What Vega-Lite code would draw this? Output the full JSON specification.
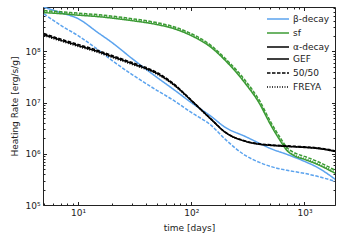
{
  "$schema": "https://vega.github.io/schema/vega-lite/v6.json",
  "width": 292,
  "height": 198,
  "autosize": "none",
  "padding": {"left": 43, "top": 7, "right": 8, "bottom": 40},
  "config": {
    "font": "DejaVu Sans",
    "view": {"stroke": "#222222", "strokeWidth": 1},
    "axis": {"domain": false, "grid": false, "labelFontSize": 9, "titleFontSize": 9, "titleFontWeight": "normal", "labelColor": "#222", "titleColor": "#222", "tickColor": "#222"},
    "legend": {"padding": 0}
  },
  "data": {"values": [
    {"time":5,"rate":7.3e8,"process":"β-decay","model":"GEF"},
    {"time":7,"rate":5.71e8,"process":"β-decay","model":"GEF"},
    {"time":10,"rate":4.36e8,"process":"β-decay","model":"GEF"},
    {"time":15,"rate":2.32e8,"process":"β-decay","model":"GEF"},
    {"time":20,"rate":1.48e8,"process":"β-decay","model":"GEF"},
    {"time":30,"rate":7.24e7,"process":"β-decay","model":"GEF"},
    {"time":50,"rate":3.08e7,"process":"β-decay","model":"GEF"},
    {"time":70,"rate":1.80e7,"process":"β-decay","model":"GEF"},
    {"time":100,"rate":1.00e7,"process":"β-decay","model":"GEF"},
    {"time":150,"rate":5.36e6,"process":"β-decay","model":"GEF"},
    {"time":200,"rate":3.27e6,"process":"β-decay","model":"GEF"},
    {"time":300,"rate":2.18e6,"process":"β-decay","model":"GEF"},
    {"time":400,"rate":1.60e6,"process":"β-decay","model":"GEF"},
    {"time":500,"rate":1.27e6,"process":"β-decay","model":"GEF"},
    {"time":700,"rate":9.73e5,"process":"β-decay","model":"GEF"},
    {"time":1000,"rate":7.11e5,"process":"β-decay","model":"GEF"},
    {"time":1300,"rate":5.43e5,"process":"β-decay","model":"GEF"},
    {"time":1870,"rate":3.17e5,"process":"β-decay","model":"GEF"},

    {"time":5,"rate":5.4e8,"process":"β-decay","model":"50/50"},
    {"time":7,"rate":3.25e8,"process":"β-decay","model":"50/50"},
    {"time":10,"rate":2.03e8,"process":"β-decay","model":"50/50"},
    {"time":15,"rate":1.08e8,"process":"β-decay","model":"50/50"},
    {"time":20,"rate":6.62e7,"process":"β-decay","model":"50/50"},
    {"time":30,"rate":3.53e7,"process":"β-decay","model":"50/50"},
    {"time":50,"rate":1.72e7,"process":"β-decay","model":"50/50"},
    {"time":70,"rate":1.10e7,"process":"β-decay","model":"50/50"},
    {"time":100,"rate":6.41e6,"process":"β-decay","model":"50/50"},
    {"time":150,"rate":3.58e6,"process":"β-decay","model":"50/50"},
    {"time":200,"rate":1.91e6,"process":"β-decay","model":"50/50"},
    {"time":300,"rate":9.31e5,"process":"β-decay","model":"50/50"},
    {"time":400,"rate":6.80e5,"process":"β-decay","model":"50/50"},
    {"time":500,"rate":5.68e5,"process":"β-decay","model":"50/50"},
    {"time":700,"rate":4.75e5,"process":"β-decay","model":"50/50"},
    {"time":1000,"rate":4.15e5,"process":"β-decay","model":"50/50"},
    {"time":1300,"rate":3.63e5,"process":"β-decay","model":"50/50"},
    {"time":1870,"rate":2.90e5,"process":"β-decay","model":"50/50"},

    {"time":5,"rate":5.71e8,"process":"sf","model":"GEF"},
    {"time":7,"rate":5.45e8,"process":"sf","model":"GEF"},
    {"time":10,"rate":5.10e8,"process":"sf","model":"GEF"},
    {"time":15,"rate":4.77e8,"process":"sf","model":"GEF"},
    {"time":20,"rate":4.46e8,"process":"sf","model":"GEF"},
    {"time":30,"rate":3.98e8,"process":"sf","model":"GEF"},
    {"time":50,"rate":3.33e8,"process":"sf","model":"GEF"},
    {"time":70,"rate":2.78e8,"process":"sf","model":"GEF"},
    {"time":100,"rate":2.03e8,"process":"sf","model":"GEF"},
    {"time":150,"rate":1.19e8,"process":"sf","model":"GEF"},
    {"time":200,"rate":6.62e7,"process":"sf","model":"GEF"},
    {"time":300,"rate":2.36e7,"process":"sf","model":"GEF"},
    {"time":400,"rate":9.60e6,"process":"sf","model":"GEF"},
    {"time":500,"rate":3.74e6,"process":"sf","model":"GEF"},
    {"time":600,"rate":1.91e6,"process":"sf","model":"GEF"},
    {"time":700,"rate":1.16e6,"process":"sf","model":"GEF"},
    {"time":800,"rate":9.31e5,"process":"sf","model":"GEF"},
    {"time":1000,"rate":7.78e5,"process":"sf","model":"GEF"},
    {"time":1300,"rate":6.21e5,"process":"sf","model":"GEF"},
    {"time":1870,"rate":4.15e5,"process":"sf","model":"GEF"},

    {"time":5,"rate":6.25e8,"process":"sf","model":"50/50"},
    {"time":7,"rate":5.96e8,"process":"sf","model":"50/50"},
    {"time":10,"rate":5.58e8,"process":"sf","model":"50/50"},
    {"time":15,"rate":5.22e8,"process":"sf","model":"50/50"},
    {"time":20,"rate":4.88e8,"process":"sf","model":"50/50"},
    {"time":30,"rate":4.35e8,"process":"sf","model":"50/50"},
    {"time":50,"rate":3.64e8,"process":"sf","model":"50/50"},
    {"time":70,"rate":3.04e8,"process":"sf","model":"50/50"},
    {"time":100,"rate":2.22e8,"process":"sf","model":"50/50"},
    {"time":150,"rate":1.30e8,"process":"sf","model":"50/50"},
    {"time":200,"rate":7.24e7,"process":"sf","model":"50/50"},
    {"time":300,"rate":2.70e7,"process":"sf","model":"50/50"},
    {"time":400,"rate":1.10e7,"process":"sf","model":"50/50"},
    {"time":500,"rate":4.28e6,"process":"sf","model":"50/50"},
    {"time":600,"rate":2.19e6,"process":"sf","model":"50/50"},
    {"time":700,"rate":1.33e6,"process":"sf","model":"50/50"},
    {"time":800,"rate":1.07e6,"process":"sf","model":"50/50"},
    {"time":1000,"rate":8.90e5,"process":"sf","model":"50/50"},
    {"time":1300,"rate":7.10e5,"process":"sf","model":"50/50"},
    {"time":1870,"rate":4.75e5,"process":"sf","model":"50/50"},

    {"time":5,"rate":5.97e8,"process":"sf","model":"FREYA"},
    {"time":7,"rate":5.70e8,"process":"sf","model":"FREYA"},
    {"time":10,"rate":5.33e8,"process":"sf","model":"FREYA"},
    {"time":15,"rate":4.98e8,"process":"sf","model":"FREYA"},
    {"time":20,"rate":4.66e8,"process":"sf","model":"FREYA"},
    {"time":30,"rate":4.16e8,"process":"sf","model":"FREYA"},
    {"time":50,"rate":3.48e8,"process":"sf","model":"FREYA"},
    {"time":70,"rate":2.91e8,"process":"sf","model":"FREYA"},
    {"time":100,"rate":2.12e8,"process":"sf","model":"FREYA"},
    {"time":150,"rate":1.24e8,"process":"sf","model":"FREYA"},
    {"time":200,"rate":6.92e7,"process":"sf","model":"FREYA"},
    {"time":300,"rate":2.47e7,"process":"sf","model":"FREYA"},
    {"time":400,"rate":1.0e7,"process":"sf","model":"FREYA"},
    {"time":500,"rate":3.9e6,"process":"sf","model":"FREYA"},
    {"time":600,"rate":2.0e6,"process":"sf","model":"FREYA"},
    {"time":700,"rate":1.21e6,"process":"sf","model":"FREYA"},
    {"time":800,"rate":9.7e5,"process":"sf","model":"FREYA"},
    {"time":1000,"rate":8.1e5,"process":"sf","model":"FREYA"},
    {"time":1300,"rate":6.5e5,"process":"sf","model":"FREYA"},
    {"time":1870,"rate":4.35e5,"process":"sf","model":"FREYA"},

    {"time":5,"rate":2.12e8,"process":"α-decay","model":"GEF"},
    {"time":7,"rate":1.66e8,"process":"α-decay","model":"GEF"},
    {"time":10,"rate":1.30e8,"process":"α-decay","model":"GEF"},
    {"time":15,"rate":9.91e7,"process":"α-decay","model":"GEF"},
    {"time":20,"rate":7.92e7,"process":"α-decay","model":"GEF"},
    {"time":30,"rate":5.78e7,"process":"α-decay","model":"GEF"},
    {"time":50,"rate":3.69e7,"process":"α-decay","model":"GEF"},
    {"time":70,"rate":2.25e7,"process":"α-decay","model":"GEF"},
    {"time":100,"rate":1.10e7,"process":"α-decay","model":"GEF"},
    {"time":150,"rate":4.69e6,"process":"α-decay","model":"GEF"},
    {"time":200,"rate":2.61e6,"process":"α-decay","model":"GEF"},
    {"time":300,"rate":1.75e6,"process":"α-decay","model":"GEF"},
    {"time":400,"rate":1.53e6,"process":"α-decay","model":"GEF"},
    {"time":500,"rate":1.46e6,"process":"α-decay","model":"GEF"},
    {"time":700,"rate":1.39e6,"process":"α-decay","model":"GEF"},
    {"time":1000,"rate":1.33e6,"process":"α-decay","model":"GEF"},
    {"time":1300,"rate":1.27e6,"process":"α-decay","model":"GEF"},
    {"time":1870,"rate":1.11e6,"process":"α-decay","model":"GEF"},

    {"time":5,"rate":2.23e8,"process":"α-decay","model":"50/50"},
    {"time":7,"rate":1.74e8,"process":"α-decay","model":"50/50"},
    {"time":10,"rate":1.37e8,"process":"α-decay","model":"50/50"},
    {"time":15,"rate":1.04e8,"process":"α-decay","model":"50/50"},
    {"time":20,"rate":8.3e7,"process":"α-decay","model":"50/50"},
    {"time":30,"rate":6.05e7,"process":"α-decay","model":"50/50"},
    {"time":50,"rate":3.85e7,"process":"α-decay","model":"50/50"},
    {"time":70,"rate":2.33e7,"process":"α-decay","model":"50/50"},
    {"time":100,"rate":1.12e7,"process":"α-decay","model":"50/50"},
    {"time":150,"rate":4.75e6,"process":"α-decay","model":"50/50"},
    {"time":200,"rate":2.64e6,"process":"α-decay","model":"50/50"},
    {"time":300,"rate":1.78e6,"process":"α-decay","model":"50/50"},
    {"time":400,"rate":1.57e6,"process":"α-decay","model":"50/50"},
    {"time":500,"rate":1.5e6,"process":"α-decay","model":"50/50"},
    {"time":700,"rate":1.43e6,"process":"α-decay","model":"50/50"},
    {"time":1000,"rate":1.37e6,"process":"α-decay","model":"50/50"},
    {"time":1300,"rate":1.31e6,"process":"α-decay","model":"50/50"},
    {"time":1870,"rate":1.15e6,"process":"α-decay","model":"50/50"},

    {"time":5,"rate":2.03e8,"process":"α-decay","model":"FREYA"},
    {"time":7,"rate":1.60e8,"process":"α-decay","model":"FREYA"},
    {"time":10,"rate":1.25e8,"process":"α-decay","model":"FREYA"},
    {"time":15,"rate":9.5e7,"process":"α-decay","model":"FREYA"},
    {"time":20,"rate":7.6e7,"process":"α-decay","model":"FREYA"},
    {"time":30,"rate":5.55e7,"process":"α-decay","model":"FREYA"},
    {"time":50,"rate":3.56e7,"process":"α-decay","model":"FREYA"},
    {"time":70,"rate":2.19e7,"process":"α-decay","model":"FREYA"},
    {"time":100,"rate":1.08e7,"process":"α-decay","model":"FREYA"},
    {"time":150,"rate":4.65e6,"process":"α-decay","model":"FREYA"},
    {"time":200,"rate":2.6e6,"process":"α-decay","model":"FREYA"},
    {"time":300,"rate":1.76e6,"process":"α-decay","model":"FREYA"},
    {"time":400,"rate":1.55e6,"process":"α-decay","model":"FREYA"},
    {"time":500,"rate":1.48e6,"process":"α-decay","model":"FREYA"},
    {"time":700,"rate":1.41e6,"process":"α-decay","model":"FREYA"},
    {"time":1000,"rate":1.35e6,"process":"α-decay","model":"FREYA"},
    {"time":1300,"rate":1.29e6,"process":"α-decay","model":"FREYA"},
    {"time":1870,"rate":1.13e6,"process":"α-decay","model":"FREYA"}
  ]},
  "layer": [
    {
      "mark": {"type": "line", "strokeWidth": 1.5, "clip": true, "interpolate": "monotone"},
      "encoding": {
        "x": {"field": "time", "type": "quantitative",
          "scale": {"type": "log", "domain": [4.9, 1860], "nice": false},
          "axis": {"title": "time [days]", "titlePadding": 5,
            "values": [5,6,7,8,9,10,20,30,40,50,60,70,80,90,100,200,300,400,500,600,700,800,900,1000],
            "labelExpr": "datum.value==10?'10¹':datum.value==100?'10²':datum.value==1000?'10³':''",
            "tickSize": {"condition": {"test": "abs(log(datum.value)/LN10 - round(log(datum.value)/LN10)) < 0.001", "value": -3.5}, "value": -2},
            "labelPadding": 6.5, "labelFlush": false, "labelOverlap": false}},
        "y": {"field": "rate", "type": "quantitative",
          "scale": {"type": "log", "domain": [100000, 736000000], "nice": false},
          "axis": {"title": "Heating Rate  [erg/s/g]", "titlePadding": 5,
            "values": [100000,200000,300000,400000,500000,600000,700000,800000,900000,1000000,2000000,3000000,4000000,5000000,6000000,7000000,8000000,9000000,10000000,20000000,30000000,40000000,50000000,60000000,70000000,80000000,90000000,100000000,200000000,300000000,400000000,500000000,600000000,700000000],
            "labelExpr": "datum.value==100000?'10⁵':datum.value==1000000?'10⁶':datum.value==10000000?'10⁷':datum.value==100000000?'10⁸':''",
            "tickSize": {"condition": {"test": "abs(log(datum.value)/LN10 - round(log(datum.value)/LN10)) < 0.001", "value": -3.5}, "value": -2},
            "labelPadding": 6.5, "labelOverlap": false, "labelFlush": false}},
        "color": {"field": "process", "type": "nominal",
          "scale": {"domain": ["β-decay", "sf", "α-decay"], "range": ["#5ba3ee", "#3c9b35", "#000000"]},
          "legend": {"title": null, "orient": "none", "legendX": 230, "legendY": 7,
            "symbolType": "M-2.75,0H2.75", "symbolSize": 64, "symbolStrokeWidth": 1.5,
            "labelFontSize": 9, "labelOffset": 10, "rowPadding": 4, "labelColor": "#222"}},
        "strokeDash": {"field": "model", "type": "nominal",
          "scale": {"domain": ["GEF", "50/50", "FREYA"], "range": [[1, 0], [3.5, 1.5], [1, 1.5]]},
          "legend": {"title": null, "orient": "none", "legendX": 230, "legendY": 47,
            "symbolType": "M-2.75,0H2.75", "symbolSize": 64, "symbolStrokeWidth": 1.5, "symbolStrokeColor": "#000000",
            "labelFontSize": 9, "labelOffset": 10, "rowPadding": 4, "labelColor": "#222"}}
      }
    },
    {
      "mark": {"type": "line", "opacity": 0},
      "encoding": {
        "x": {"field": "time", "type": "quantitative",
          "scale": {"type": "log", "domain": [4.9, 1860], "nice": false},
          "axis": {"orient": "top", "title": null, "labels": false,
            "values": [5,6,7,8,9,10,20,30,40,50,60,70,80,90,100,200,300,400,500,600,700,800,900,1000],
            "tickSize": {"condition": {"test": "abs(log(datum.value)/LN10 - round(log(datum.value)/LN10)) < 0.001", "value": -3.5}, "value": -2}}},
        "y": {"field": "rate", "type": "quantitative",
          "scale": {"type": "log", "domain": [100000, 736000000], "nice": false},
          "axis": {"orient": "right", "title": null, "labels": false,
            "values": [100000,200000,300000,400000,500000,600000,700000,800000,900000,1000000,2000000,3000000,4000000,5000000,6000000,7000000,8000000,9000000,10000000,20000000,30000000,40000000,50000000,60000000,70000000,80000000,90000000,100000000,200000000,300000000,400000000,500000000,600000000,700000000],
            "tickSize": {"condition": {"test": "abs(log(datum.value)/LN10 - round(log(datum.value)/LN10)) < 0.001", "value": -3.5}, "value": -2}}},
        "detail": {"field": "process"}
      }
    }
  ],
  "resolve": {"axis": {"x": "independent", "y": "independent"}}
}
